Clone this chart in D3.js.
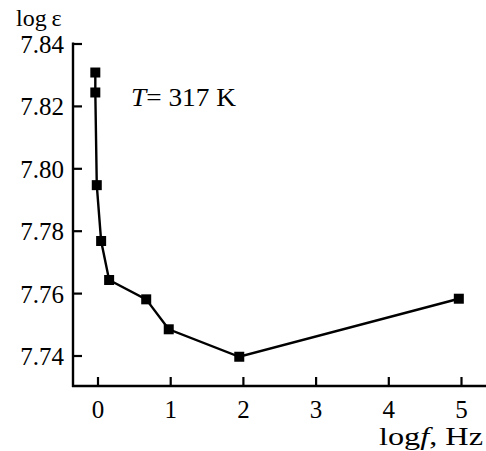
<!DOCTYPE html>
<html>
<head>
<meta charset="utf-8">
<script src="https://cdn.jsdelivr.net/npm/d3@7"></script>
<style>
  html, body { margin: 0; padding: 0; background: #fff; }
</style>
</head>
<body>
<svg id="chart" width="486" height="451"></svg>
<script>
// log of frequency (Hz) and log of permittivity at T = 317 K
const logF   = [-0.03, -0.03, -0.01, 0.05, 0.16, 0.67, 0.98, 1.95, 4.97];
const logEps = [7.8307, 7.8243, 7.7946, 7.7767, 7.7642, 7.7580, 7.7484, 7.7396, 7.7582];
const xTicks = [0, 1, 2, 3, 4, 5];
const yTicks = [7.74, 7.76, 7.78, 7.80, 7.82, 7.84];

const FONT = "'Liberation Serif', 'Times New Roman', Tinos, 'DejaVu Serif', serif";

const svg = d3.select("#chart").attr("font-family", FONT);
const axisX = 73, axisY = 386;

const x = d3.scaleLinear().domain([0, 5]).range([97.5, 461]);
const y = d3.scaleLinear().domain([7.74, 7.84]).range([355.5, 43.5]);

// frame lines
svg.append("line").attr("x1", axisX).attr("x2", axisX).attr("y1", y(7.84) - 1).attr("y2", axisY + 1)
  .attr("stroke", "#000").attr("stroke-width", 2.4);
svg.append("line").attr("x1", axisX - 1).attr("x2", 486).attr("y1", axisY).attr("y2", axisY)
  .attr("stroke", "#000").attr("stroke-width", 2.4);

// y axis: ticks pointing inward
const gy = svg.append("g").attr("transform", `translate(${axisX},0)`)
  .call(d3.axisRight(y).tickValues(yTicks).tickSize(9).tickFormat(""));
gy.attr("font-family", FONT);
gy.select(".domain").remove();
gy.selectAll(".tick line").attr("stroke", "#000").attr("stroke-width", 2.2);
gy.selectAll(".tick").append("text")
  .attr("x", -9).attr("dy", "0.36em").attr("text-anchor", "end")
  .attr("fill", "#000")
  .style("font-family", FONT).style("font-size", "25px")
  .text(d => d3.format(".2f")(d));

// x axis: ticks pointing up into the plot
const gx = svg.append("g").attr("transform", `translate(0,${axisY})`)
  .call(d3.axisTop(x).tickValues(xTicks).tickSize(9).tickFormat(""));
gx.attr("font-family", FONT);
gx.select(".domain").remove();
gx.selectAll(".tick line").attr("stroke", "#000").attr("stroke-width", 2.2);
gx.selectAll(".tick").append("text")
  .attr("y", 32).attr("text-anchor", "middle")
  .attr("fill", "#000")
  .style("font-family", FONT).style("font-size", "25px")
  .text(d => d);

// data curve
const pts = logF.map((f, i) => [f, logEps[i]]);
svg.append("path").datum(pts)
  .attr("fill", "none").attr("stroke", "#000").attr("stroke-width", 2.4)
  .attr("d", d3.line().x(d => x(d[0])).y(d => y(d[1])));

// square markers
const m = 10;
svg.selectAll("rect.pt").data(pts).enter().append("rect")
  .attr("class", "pt")
  .attr("x", d => x(d[0]) - m / 2).attr("y", d => y(d[1]) - m / 2)
  .attr("width", m).attr("height", m).attr("fill", "#000");

// axis titles
svg.append("text").attr("x", 16).attr("y", 26)
  .style("font-family", FONT).style("font-size", "24px").text("log\u2009ε");
const xt = svg.append("text").attr("x", 379).attr("y", 445)
  .attr("textLength", 104).attr("lengthAdjust", "spacingAndGlyphs")
  .style("font-family", FONT).style("font-size", "26px");
xt.append("tspan").text("log");
xt.append("tspan").style("font-style", "italic").text("f");
xt.append("tspan").text(", Hz");

// temperature note
const tl = svg.append("text").attr("x", 131).attr("y", 106)
  .attr("textLength", 105).attr("lengthAdjust", "spacingAndGlyphs")
  .style("font-family", FONT).style("font-size", "25px");
tl.append("tspan").style("font-style", "italic").text("T");
tl.append("tspan").text("= 317 K");
</script>
</body>
</html>
